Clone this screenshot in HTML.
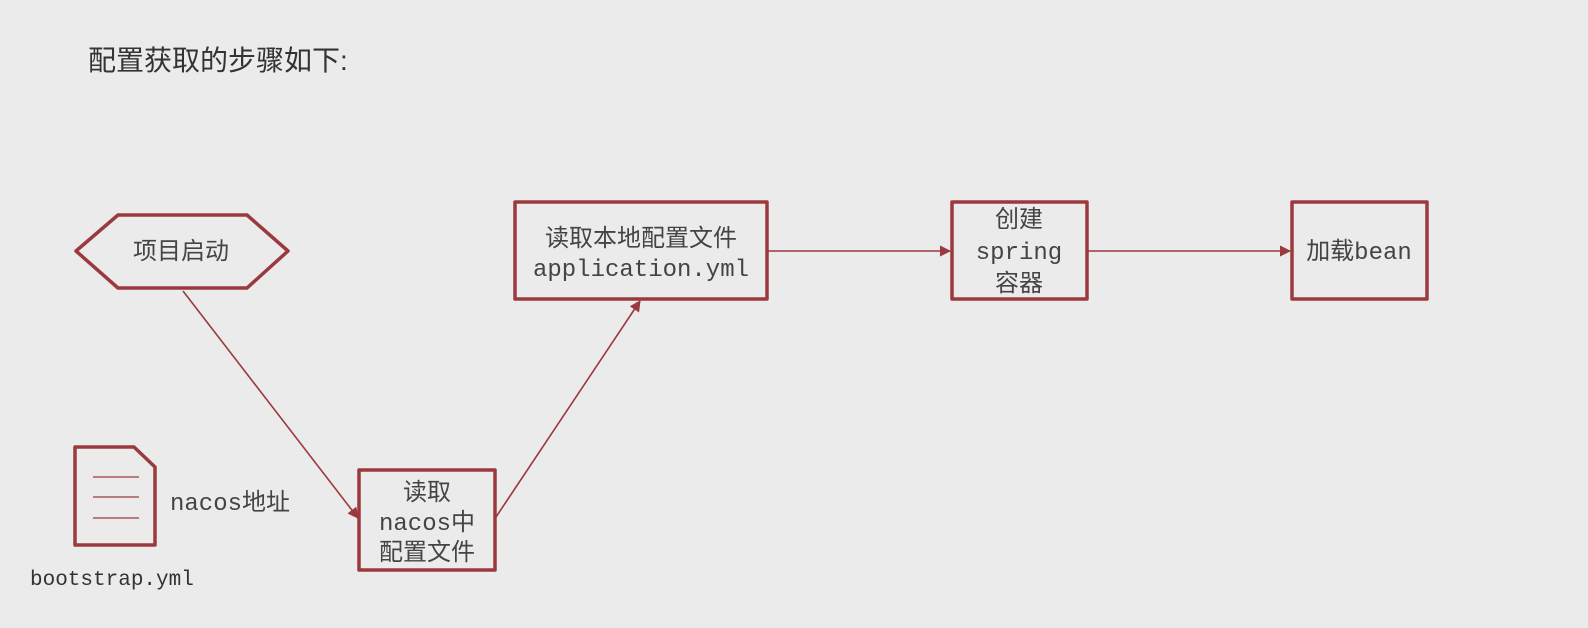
<!DOCTYPE html>
<html><head><meta charset="utf-8"><style>
html,body{margin:0;padding:0;background:#ebebeb;}
svg{display:block;}
text{font-family:"Liberation Mono","Noto Sans CJK SC",monospace;fill:#444;}
</style></head><body>
<svg width="1588" height="628" viewBox="0 0 1588 628" xmlns="http://www.w3.org/2000/svg">
<rect width="1588" height="628" fill="#ebebeb"/>
<defs><marker id="a" viewBox="0 0 10 10" refX="9" refY="5" markerWidth="7" markerHeight="7" orient="auto"><path d="M0,0L10,5L0,10z" fill="#9a3a3e"/></marker></defs>
<text x="88" y="70" font-size="28" style="font-family:'Liberation Sans','Noto Sans CJK SC',sans-serif;fill:#333">配置获取的步骤如下:</text>
<g fill="none" stroke="#9a3a3e" stroke-width="3.5" stroke-linejoin="round">
<polygon points="76,251 118,215 247,215 288,251 247,288 118,288"/>
<rect x="515" y="202" width="252" height="97"/>
<rect x="952" y="202" width="135" height="97"/>
<rect x="1292" y="202" width="135" height="97"/>
<rect x="359" y="470" width="136" height="100"/>
<polygon points="75,447 134,447 155,467 155,545 75,545"/>
</g>
<g stroke="#9a3a3e" stroke-width="1.2">
<line x1="93" y1="477" x2="139" y2="477"/><line x1="93" y1="497" x2="139" y2="497"/><line x1="93" y1="518" x2="139" y2="518"/>
</g>
<g stroke="#9a3a3e" stroke-width="1.6" fill="none" marker-end="url(#a)">
<line x1="183" y1="291" x2="358" y2="518"/>
<line x1="496" y1="517" x2="640" y2="301"/>
<line x1="768" y1="251" x2="950" y2="251"/>
<line x1="1088" y1="251" x2="1290" y2="251"/>
</g>
<g font-size="24" text-anchor="middle">
<text x="181" y="259">项目启动</text>
<text x="641" y="246">读取本地配置文件</text>
<text x="641" y="276">application.yml</text>
<text x="1019" y="227">创建</text>
<text x="1019" y="259">spring</text>
<text x="1019" y="291">容器</text>
<text x="1359" y="259">加载bean</text>
<text x="427" y="500">读取</text>
<text x="427" y="530">nacos中</text>
<text x="427" y="560">配置文件</text>
</g>
<text x="170" y="510" font-size="24">nacos地址</text>
<text x="30" y="585" font-size="21" style="fill:#333">bootstrap.yml</text>
</svg>
</body></html>
